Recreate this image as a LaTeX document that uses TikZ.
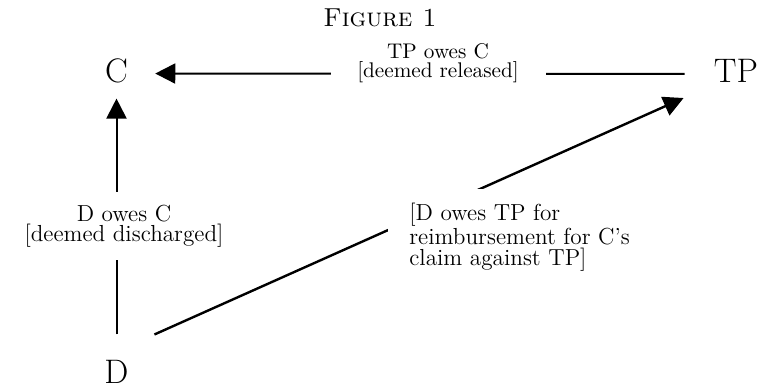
\documentclass[tikz,border=0pt]{standalone}
\usetikzlibrary{arrows.meta}
\tikzset{
  party/.style={inner sep=0pt,font=\fontsize{17}{20}\selectfont},
  owes/.style={fill=white,inner sep=0pt,font=\fontsize{11.6}{10.25}\selectfont},
  link/.style={line width=1pt,-{Triangle[length=10pt,width=10pt]}},
}
\begin{document}
\begin{tikzpicture}[x=0.5pt,y=-0.5pt]
\useasboundingbox (0,0) rectangle (757,388);
\node[font=\fontsize{13}{15}\selectfont] (fig) at (380,18) {\textsc{Figure 1}};
\node[party] (C) at (116.5,70.5) {C};
\node[party] (TP) at (736,71) {TP};
\node[party] (D) at (116.5,372) {D};
\draw[link,shorten <=14.5pt,shorten >=13.5pt] ([yshift=-1.5pt]TP.west)--([yshift=-1.5pt]C.east);
\draw[link,shorten <=12.75pt,shorten >=7.75pt] (D.north)--(C.south);
\draw[link,line width=1.2pt] ([xshift=12.75pt,yshift=12.75pt]D.north east)--([xshift=-15pt,yshift=-7.5pt]TP.south west);
\node[owes,align=center,minimum width=107.5pt,font=\fontsize{10.6}{9.2}\selectfont] (tpc) at (438,63) {TP owes C\\{}[deemed released]};
\node[owes,align=center,minimum height=34pt] (dc) at (124,226) {D owes C\\{}[deemed discharged]};
\node[owes,align=left,anchor=west,inner xsep=10.5pt,inner ysep=7pt] (dtp) at (388,237) {[D owes TP for\\reimbursement for C's\\claim against TP]};
\end{tikzpicture}
\end{document}
